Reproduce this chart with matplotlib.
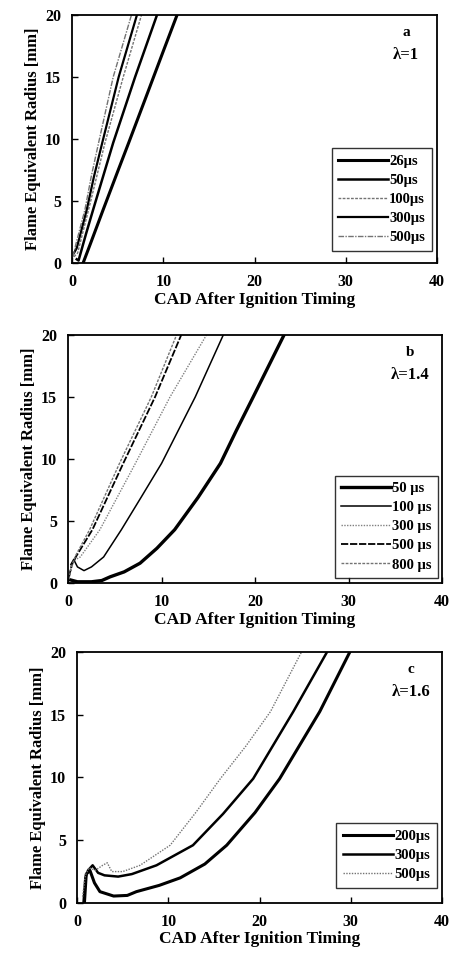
import matplotlib.pyplot as plt

plt.rcParams['font.family'] = ['Liberation Serif', 'DejaVu Serif']
plt.rcParams['font.weight'] = 'bold'

# ---- panel a : lambda = 1 ----
a_labels = ['26\u03bcs', '50\u03bcs', '100\u03bcs', '300\u03bcs', '500\u03bcs']
a_x = [
    [1.2, 2.0, 3.4, 5.0, 6.2, 8.0, 10.0, 11.5],
    [0.5, 0.7, 1.5, 2.3, 3.4, 4.5, 6.9, 9.3],
    [0.2, 0.6, 1.8, 2.7, 3.6, 5.6, 7.6],
    [0.2, 0.5, 1.6, 2.4, 3.3, 5.1, 7.1],
    [0.1, 0.4, 1.4, 2.1, 2.9, 4.5, 6.5],
]
a_y = [
    [0.0, 1.55, 4.3, 7.4, 9.7, 13.2, 17.1, 20.0],
    [0.3, 0.2, 2.3, 4.3, 7.0, 9.7, 15.0, 20.0],
    [0.5, 0.8, 4.3, 7.0, 9.7, 15.0, 20.0],
    [0.8, 1.2, 4.3, 7.0, 9.7, 15.0, 20.0],
    [0.5, 1.5, 4.3, 7.0, 9.7, 15.0, 20.0],
]

# ---- panel b : lambda = 1.4 ----
b_labels = ['50 \u03bcs', '100 \u03bcs', '300 \u03bcs', '500 \u03bcs', '800 \u03bcs']
b_x = [
    [0.0, 1.0, 2.5, 3.6, 4.5, 6.0, 7.7, 9.5, 11.4, 13.9, 16.3, 18.0, 19.8, 23.1],
    [0.3, 0.6, 1.0, 1.7, 2.5, 3.8, 5.7, 7.8, 10.0, 13.6, 16.6],
    [0.2, 0.6, 1.3, 3.4, 7.2, 10.9, 14.8],
    [0.1, 0.4, 0.9, 2.6, 5.9, 9.3, 12.1],
    [0.1, 0.3, 0.8, 2.3, 5.5, 8.9, 11.6],
]
b_y = [
    [0.3, 0.1, 0.1, 0.2, 0.5, 0.9, 1.6, 2.8, 4.3, 6.9, 9.65, 12.3, 15.0, 20.0],
    [1.5, 1.9, 1.3, 1.0, 1.3, 2.1, 4.3, 6.9, 9.65, 15.0, 20.0],
    [0.8, 1.8, 2.1, 4.3, 9.65, 15.0, 20.0],
    [0.5, 1.5, 2.2, 4.3, 9.65, 15.0, 20.0],
    [0.3, 1.2, 2.2, 4.3, 9.65, 15.0, 20.0],
]

# ---- panel c : lambda = 1.6 ----
c_labels = ['200\u03bcs', '300\u03bcs', '500\u03bcs']
c_x = [
    [0.8, 1.0, 1.4, 1.9, 2.5, 4.0, 5.5, 6.5, 9.0, 11.3, 14.0, 16.4, 19.5, 22.2, 26.6, 29.9],
    [0.7, 0.9, 1.2, 1.7, 2.3, 3.0, 4.5, 6.0, 8.7, 12.7, 16.0, 19.3, 23.7, 27.4],
    [0.6, 0.9, 1.3, 2.0, 2.8, 3.3, 3.8, 5.0, 6.9, 10.2, 13.0, 15.7, 18.5, 21.2, 24.6],
]
c_y = [
    [0.0, 2.3, 2.6, 1.6, 0.9, 0.55, 0.6, 0.9, 1.4, 2.0, 3.1, 4.6, 7.2, 9.9, 15.25, 20.0],
    [0.0, 2.0, 2.6, 3.0, 2.4, 2.2, 2.1, 2.3, 3.0, 4.6, 7.1, 9.9, 15.25, 20.0],
    [0.5, 2.2, 2.8, 2.6, 3.0, 3.2, 2.5, 2.5, 3.0, 4.6, 7.2, 9.9, 12.5, 15.25, 20.0],
]

styles_a = [
    dict(color='k', lw=2.2, ls='-'),
    dict(color='k', lw=1.8, ls='-'),
    dict(color='0.45', lw=1.0, ls=(0, (2, 1))),
    dict(color='k', lw=1.6, ls='-'),
    dict(color='0.45', lw=1.0, ls=(0, (4, 1, 1, 1))),
]
styles_b = [
    dict(color='k', lw=2.4, ls='-'),
    dict(color='k', lw=1.1, ls='-'),
    dict(color='0.5', lw=1.0, ls=(0, (1, 1))),
    dict(color='k', lw=1.3, ls=(0, (4, 1))),
    dict(color='0.45', lw=1.0, ls=(0, (2, 1))),
]
styles_c = [
    dict(color='k', lw=2.2, ls='-'),
    dict(color='k', lw=1.8, ls='-'),
    dict(color='0.45', lw=1.0, ls=(0, (1, 1))),
]

panels = [
    ([0.160, 0.7246, 0.809, 0.2597], a_labels, a_x, a_y, styles_a, 'a', '\u03bb=1', (0.985, 0.05)),
    ([0.151, 0.3895, 0.829, 0.2597], b_labels, b_x, b_y, styles_b, 'b', '\u03bb=1.4', (0.99, 0.02)),
    ([0.171, 0.0545, 0.809, 0.2628], c_labels, c_x, c_y, styles_c, 'c', '\u03bb=1.6', (0.985, 0.06)),
]

fig = plt.figure(figsize=(4.51, 9.55), dpi=100)

for rect, labels, xs, ys, styles, tag, lam, anchor in panels:
    ax = fig.add_axes(rect)
    for lab, x, y, st in zip(labels, xs, ys, styles):
        ax.plot(x, y, label=lab, **st)
    ax.set_xlim(0, 40)
    ax.set_ylim(0, 20)
    ax.set_xticks([0, 10, 20, 30, 40])
    ax.set_yticks([0, 5, 10, 15, 20])
    ax.tick_params(direction='in', length=4, width=1, labelsize=11.5, pad=8)
    for s in ax.spines.values():
        s.set_linewidth(1.3)
    ax.set_xlabel('CAD After Ignition Timing', fontsize=12.5, fontweight='bold', labelpad=1)
    ax.set_ylabel('Flame Equivalent Radius [mm]', fontsize=12, fontweight='bold', labelpad=3)
    ax.text(0.915, 0.93, tag, transform=ax.transAxes, ha='center', va='center',
            fontsize=11, fontweight='bold')
    ax.text(0.915, 0.84, lam, transform=ax.transAxes, ha='center', va='center',
            fontsize=12, fontweight='bold')
    leg = ax.legend(loc='lower right', bbox_to_anchor=anchor, fontsize=10.5,
                    frameon=True, fancybox=False, edgecolor='k',
                    handlelength=3.4, handletextpad=0.1, borderpad=0.45,
                    labelspacing=0.4, borderaxespad=0.0)
    leg.get_frame().set_linewidth(1.0)

fig.savefig('out.png', dpi=100, facecolor='white')
